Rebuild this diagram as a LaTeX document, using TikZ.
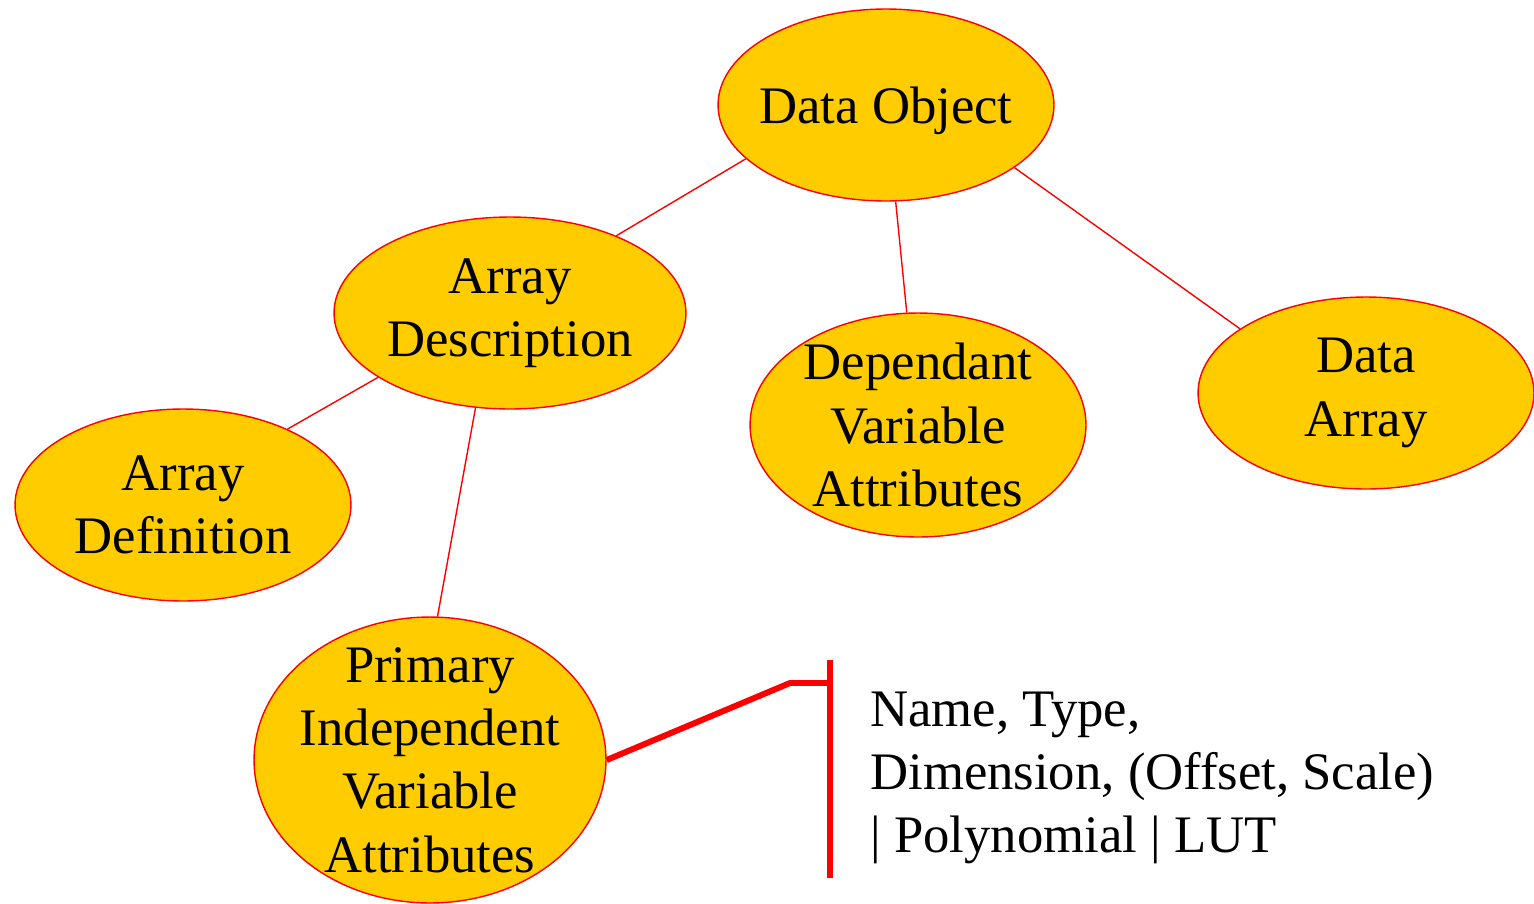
\documentclass[tikz,border=0pt]{standalone}
\usepackage{fontspec}
\setmainfont{Liberation Serif}
\usetikzlibrary{shapes.geometric, positioning}
\definecolor{objFill}{HTML}{FFCC00}
\definecolor{objLine}{HTML}{FF0000}

\begin{document}
\begin{tikzpicture}[x=0.02cm, y=-0.02cm,
        font=\fontsize{30}{36}\selectfont,
        blob/.style={ellipse, draw=objLine, line width=0.8pt, fill=objFill, align=center, inner sep=-1cm, minimum width=6.72cm, minimum height=3.84cm},
        link/.style={objLine, line width=0.8pt},
        brace/.style={objLine, line width=3.4pt}]
        \useasboundingbox (0,0) rectangle (1534,903);
        \node[blob, text depth=0pt] (obj) at (886,105) {Data Object};
        \node[blob, minimum width=7.04cm] (desc) at (510,313) {Array\\Description};
        \node[blob] (def) at (183,505) {Array\\Definition};
        \node[blob, minimum height=4.48cm] (dep) at (918,425) {Dependant\\Variable\\Attributes};
        \node[blob] (arr) at (1366,393) {Data\\Array};
        \node[blob, minimum width=7.04cm, minimum height=5.72cm] (prim) at (430,760) {Primary\\Independent\\Variable\\Attributes};
        \node[align=left, anchor=west, inner sep=0pt] (attrs) at (870,778) {Name, Type,\\Dimension, (Offset, Scale)\\| Polynomial | LUT};
        \coordinate (knee) at (790,683);
        \coordinate (tip) at (830,683);
        \coordinate (top) at (830,660);
        \coordinate (bot) at (830,878);
        \draw[link] (obj.-159) -- (desc.36);
        \draw[link] (obj) -- (dep);
        \draw[link] (obj.-26) -- (arr.153);
        \draw[link] (desc.-154) -- (def.36);
        \draw[link] (desc.-110) -- (prim.87);
        \draw[brace] (prim.east) -- (knee) -- (tip);
        \draw[brace] (top) -- (bot);
      \end{tikzpicture}
\end{document}
